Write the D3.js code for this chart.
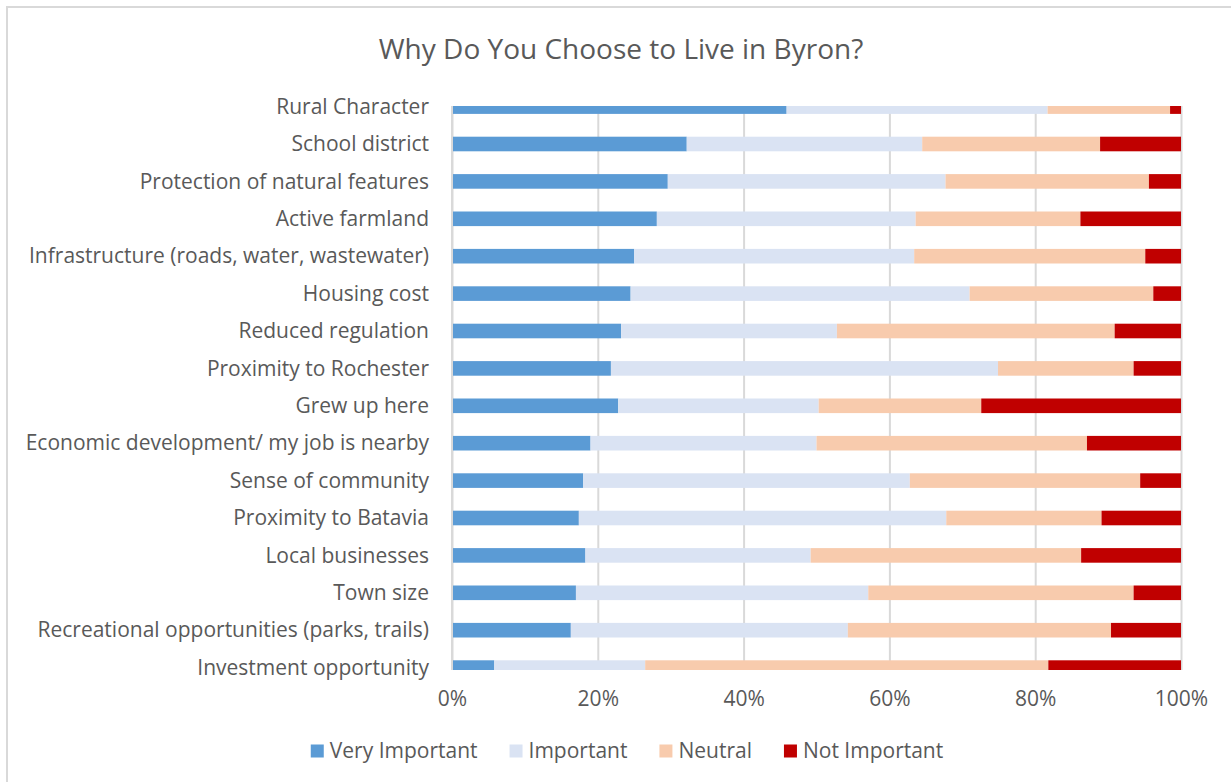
<!DOCTYPE html>
<html lang="en">
<head>
    <meta charset="UTF-8"/>
    <title>Why Do You Choose to Live in Byron?</title>
    <script src="https://d3js.org/d3.v7.min.js"></script>
    <style>
        body { margin: 0; background: #fff; }
        text { font-family: "Open Sans", "Noto Sans", sans-serif; fill: #595959; }
    </style>
</head>
<body>
    <div id="chart"></div>

    <script>
        // categories, top to bottom
        var categories = [
            "Rural Character", "School district", "Protection of natural features",
            "Active farmland", "Infrastructure (roads, water, wastewater)", "Housing cost",
            "Reduced regulation", "Proximity to Rochester", "Grew up here",
            "Economic development/ my job is nearby", "Sense of community",
            "Proximity to Batavia", "Local businesses", "Town size",
            "Recreational opportunities (parks, trails)", "Investment opportunity"
        ];

        // percentages
        var veryImportant = [45.9, 32.2, 29.6, 28.1, 25.0, 24.5, 23.2, 21.8, 22.8, 19.0, 18.0, 17.4, 18.3, 17.0, 16.3, 5.8];
        var important     = [35.8, 32.3, 38.1, 35.5, 38.4, 46.5, 29.6, 53.1, 27.5, 31.0, 44.8, 50.4, 30.9, 40.1, 38.0, 20.7];
        var neutral       = [16.8, 24.4, 27.9, 22.6, 31.7, 25.2, 38.1, 18.6, 22.3, 37.1, 31.6, 21.3, 37.1, 36.4, 36.1, 55.3];
        var notImportant  = [1.5, 11.1, 4.4, 13.8, 4.9, 3.8, 9.1, 6.5, 27.4, 12.9, 5.6, 10.9, 13.7, 6.5, 9.6, 18.2];

        var seriesNames = ["Very Important", "Important", "Neutral", "Not Important"];
        var seriesColors = ["#5b9bd5", "#dae3f3", "#f8cbad", "#c00000"];
        var tickValues = [0, 0.2, 0.4, 0.6, 0.8, 1];

        var w = 1231;
        var h = 782;
        var plotLeft = 452, plotRight = 1181, plotTop = 106, plotBottom = 670;

        var rows = categories.map(function(c, i) {
            var vals = [veryImportant[i], important[i], neutral[i], notImportant[i]];
            var total = d3.sum(vals);
            return { cat: c, vals: vals.map(function(v) { return v / total; }) };
        });

        var stack = d3.stack()
                      .keys([0, 1, 2, 3])
                      .value(function(d, k) { return d.vals[k]; });
        var series = stack(rows);

        var xScale = d3.scaleLinear().domain([0, 1]).range([plotLeft, plotRight]);
        var yScale = d3.scalePoint().domain(categories).range([106.6, 667.6]);
        var barH = 14.6;

        var svg = d3.select("#chart")
                    .append("svg")
                    .attr("width", w)
                    .attr("height", h);

        // chart frame
        svg.append("rect")
            .attr("x", 7).attr("y", 7)
            .attr("width", w + 20).attr("height", h + 20)
            .attr("fill", "#fff")
            .attr("stroke", "#d9d9d9")
            .attr("stroke-width", 2);

        svg.append("text")
            .attr("x", 621).attr("y", 59)
            .attr("text-anchor", "middle")
            .style("font-size", "28px")
            .text("Why Do You Choose to Live in Byron?");

        // gridlines
        svg.append("g")
            .attr("transform", "translate(0," + plotBottom + ")")
            .call(d3.axisBottom(xScale).tickValues(tickValues).tickSize(-(plotBottom - plotTop)).tickFormat(""))
            .call(function(g) {
                g.select(".domain").remove();
                g.selectAll("line").attr("stroke", "#d9d9d9").attr("stroke-width", 2);
            });

        svg.append("clipPath").attr("id", "plot")
            .append("rect")
            .attr("x", plotLeft).attr("y", plotTop)
            .attr("width", plotRight - plotLeft).attr("height", plotBottom - plotTop);

        svg.append("g")
            .attr("clip-path", "url(#plot)")
            .selectAll("g")
            .data(series)
            .enter()
            .append("g")
            .attr("fill", function(d) { return seriesColors[d.key]; })
            .selectAll("rect")
            .data(function(d) { return d; })
            .enter()
            .append("rect")
            .attr("x", function(d) { return xScale(d[0]); })
            .attr("width", function(d) { return xScale(d[1]) - xScale(d[0]); })
            .attr("y", function(d) { return yScale(d.data.cat) - barH / 2; })
            .attr("height", barH);

        // left axis line
        svg.append("line")
            .attr("x1", plotLeft).attr("x2", plotLeft)
            .attr("y1", plotTop).attr("y2", plotBottom)
            .attr("stroke", "#d9d9d9").attr("stroke-width", 2);

        // category labels
        svg.append("g")
            .attr("transform", "translate(" + (plotLeft - 6) + ",0)")
            .call(d3.axisLeft(yScale).tickSize(0).tickPadding(17))
            .call(function(g) {
                g.select(".domain").remove();
                g.selectAll("text")
                    .attr("fill", "#595959")
                    .style("font-family", "'Open Sans', sans-serif")
                    .style("font-size", "21px");
            });

        // x tick labels
        svg.append("g")
            .attr("transform", "translate(0," + plotBottom + ")")
            .call(d3.axisBottom(xScale).tickValues(tickValues).tickSize(0).tickPadding(21).tickFormat(d3.format(".0%")))
            .call(function(g) {
                g.select(".domain").remove();
                g.selectAll("text")
                    .attr("fill", "#595959")
                    .style("font-family", "'Open Sans', sans-serif")
                    .style("font-size", "21px");
            });

        // legend
        var legend = svg.append("g");
        var items = legend.selectAll("g")
            .data(seriesNames)
            .enter()
            .append("g");
        items.append("rect")
            .attr("width", 13).attr("height", 13)
            .attr("y", -6.5)
            .attr("fill", function(d, i) { return seriesColors[i]; });
        items.append("text")
            .attr("x", 19).attr("y", 0)
            .attr("dy", "0.35em")
            .style("font-size", "21px")
            .text(function(d) { return d; });

        var xpos = 0;
        var offsets = [];
        items.each(function() {
            offsets.push(xpos);
            xpos += 19 + d3.select(this).select("text").node().getComputedTextLength() + 32;
        });
        var totalW = xpos - 32;
        var startX = 627 - totalW / 2;
        items.attr("transform", function(d, i) { return "translate(" + (startX + offsets[i]) + ",751)"; });
    </script>
</body>
</html>
